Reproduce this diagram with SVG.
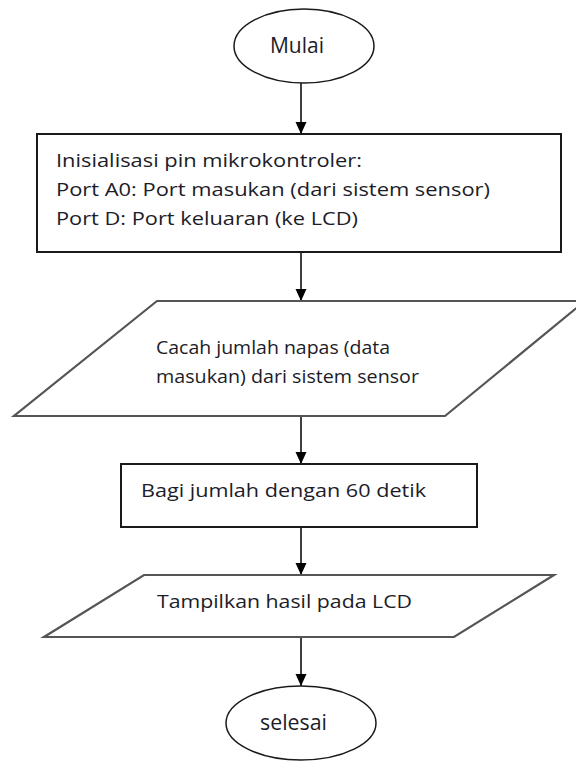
<svg xmlns="http://www.w3.org/2000/svg" width="576" height="761" viewBox="0 0 576 761">
<style>
  .term { fill: #ffffff; stroke: #1a1a1a; stroke-width: 1.5; }
  .proc { fill: #ffffff; stroke: #1a1a1a; stroke-width: 2; }
  .io { fill: #ffffff; stroke: #555555; stroke-width: 2.2; }
  .lbl { font-family: "Open Sans", "Noto Sans", "Liberation Sans", sans-serif; font-size: 18px; fill: #1c1c28; }
  .big { font-size: 21px; }
  .conn { stroke: #000000; stroke-width: 1.5; fill: none; marker-end: url(#arr); }
</style>
<defs>
  <marker id="arr" markerWidth="12" markerHeight="12" refX="12" refY="6" orient="auto" markerUnits="userSpaceOnUse">
    <path d="M0,0.5 L12,6 L0,11.5 z" fill="#000000"/>
  </marker>
</defs>
<rect width="576" height="761" fill="#ffffff"/>
<g id="connectors">
  <line class="conn" x1="301" y1="83" x2="301" y2="134"/>
  <line class="conn" x1="301" y1="252" x2="301" y2="301"/>
  <line class="conn" x1="301" y1="416" x2="301" y2="464"/>
  <line class="conn" x1="301" y1="527" x2="301" y2="575"/>
  <line class="conn" x1="301" y1="637" x2="301" y2="686"/>
</g>
<g id="mulai">
  <ellipse class="term" cx="304" cy="46" rx="70" ry="37"/>
  <text class="lbl big" x="270" y="53" textLength="54" lengthAdjust="spacingAndGlyphs">Mulai</text>
</g>
<g id="inisialisasi">
  <rect class="proc" x="37" y="134" width="524" height="118"/>
  <text class="lbl" x="56" y="167" textLength="306" lengthAdjust="spacingAndGlyphs">Inisialisasi pin mikrokontroler:</text>
  <text class="lbl" x="56" y="196" textLength="434" lengthAdjust="spacingAndGlyphs">Port A0: Port masukan (dari sistem sensor)</text>
  <text class="lbl" x="56" y="225" textLength="302" lengthAdjust="spacingAndGlyphs">Port D: Port keluaran (ke LCD)</text>
</g>
<g id="cacah">
  <polygon class="io" points="157,301 585,301 445,416 14,416"/>
  <text class="lbl" x="156" y="354" textLength="234" lengthAdjust="spacingAndGlyphs">Cacah jumlah napas (data</text>
  <text class="lbl" x="156" y="383" textLength="263" lengthAdjust="spacingAndGlyphs">masukan) dari sistem sensor</text>
</g>
<g id="bagi">
  <rect class="proc" x="121" y="464" width="356" height="63"/>
  <text class="lbl" x="141" y="497" textLength="285" lengthAdjust="spacingAndGlyphs" style="font-size:19px">Bagi jumlah dengan 60 detik</text>
</g>
<g id="tampilkan">
  <polygon class="io" points="144,575 554,575 454,637 44,637"/>
  <text class="lbl" x="157" y="608" textLength="255" lengthAdjust="spacingAndGlyphs">Tampilkan hasil pada LCD</text>
</g>
<g id="selesai">
  <ellipse class="term" cx="301" cy="723" rx="75" ry="37"/>
  <text class="lbl big" x="260" y="730" textLength="67" lengthAdjust="spacingAndGlyphs">selesai</text>
</g>
</svg>
